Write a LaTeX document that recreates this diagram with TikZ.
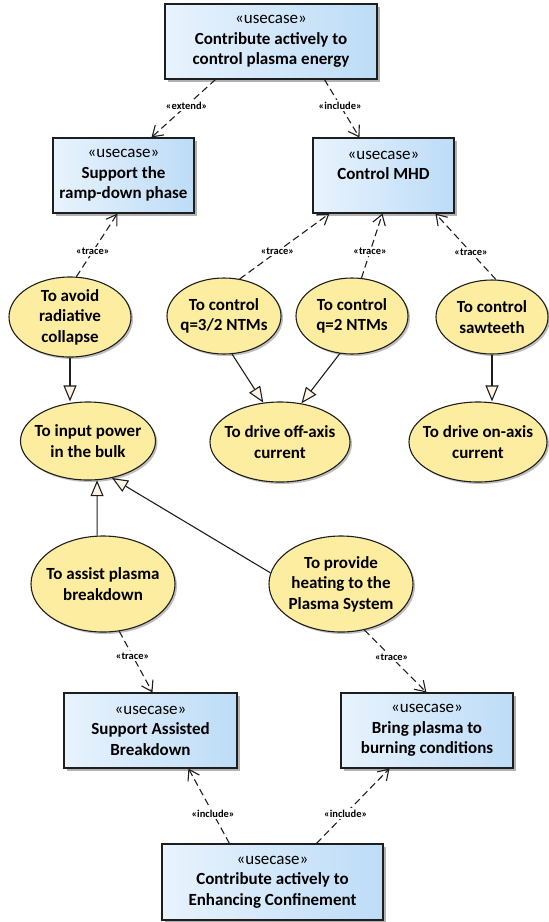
\documentclass[tikz,border=0pt]{standalone}
\usepackage{fontspec}
\setmainfont{Carlito}
\usetikzlibrary{shapes.geometric, arrows.meta, shadows}
\definecolor{ucleft}{HTML}{E8F3FD}
\definecolor{ucright}{HTML}{BDDCF7}
\definecolor{goalfill}{HTML}{FDEDA0}
\definecolor{tipfill}{HTML}{FDF4E6}
\definecolor{edge}{HTML}{1E1E1E}
\begin{document}
\begin{tikzpicture}[x=1pt, y=-1pt, line join=miter,
    every node/.style={align=center, inner sep=0pt},
    usecase/.style={rectangle, draw=edge, line width=1.1pt, left color=ucleft, right color=ucright, minimum height=75pt, font=\fontsize{17}{20.5}\selectfont\bfseries, drop shadow={shadow xshift=2.5pt, shadow yshift=-2.5pt, fill=black, opacity=0.3}},
    goal/.style={ellipse, draw=edge, line width=1.1pt, fill=goalfill, drop shadow={shadow xshift=2pt, shadow yshift=-2pt, fill=black, opacity=0.25}},
    goaltext/.style={font=\fontsize{17}{20.5}\selectfont\bfseries},
    dep/.style={draw=edge, line width=1.1pt, dash pattern=on 7pt off 4pt, -{Straight Barb[length=10pt, width=13pt]}},
    gen/.style={draw=edge, line width=1.1pt, -{Triangle[length=16pt, width=13pt, fill=tipfill]}},
    lbl/.style={fill=white, inner sep=1.5pt, font=\fontsize{10.5}{11}\selectfont\bfseries}]
    \useasboundingbox (0,0) rectangle (549,922);
    % use cases
    \node[usecase, minimum width=212pt] (cpe) at (271,41.5) {{\mdseries«usecase»}\\Contribute actively to\\control plasma energy};
    \node[usecase, minimum width=141pt] (ramp) at (123.5,175.5) {{\mdseries«usecase»}\\Support the\\ramp-down phase};
    \node[usecase, minimum width=141pt] (mhd) at (383.5,175.5) {{\mdseries«usecase»}\\Control MHD\\~};
    \node[usecase, minimum width=173pt] (sab) at (150.5,730.5) {{\mdseries«usecase»}\\Support Assisted\\Breakdown};
    \node[usecase, minimum width=172pt] (bring) at (427,730.5) {{\mdseries«usecase»}\\Bring plasma to\\burning conditions};
    \node[usecase, minimum width=221pt, minimum height=76pt] (ec) at (272.5,882) {{\mdseries«usecase»}\\Contribute actively to\\Enhancing Confinement};
    % goals
    \node[goal, minimum width=122pt, minimum height=80pt, label={[goaltext]center:To avoid\\radiative\\collapse}] (avoid) at (70,317) {};
    \node[goal, minimum width=114pt, minimum height=76pt, label={[goaltext]center:To control\\q=3/2 NTMs}] (q32) at (224,316) {};
    \node[goal, minimum width=112pt, minimum height=76pt, label={[goaltext]center:To control\\q=2 NTMs}] (q2) at (352,316) {};
    \node[goal, minimum width=112pt, minimum height=74pt, label={[goaltext]center:To control\\sawteeth}] (saw) at (492,317) {};
    \node[goal, minimum width=135pt, minimum height=78pt, label={[goaltext]center:To input power\\in the bulk}] (input) at (88,441) {};
    \node[goal, minimum width=140pt, minimum height=80pt, label={[goaltext]center:To drive off-axis\\current}] (off) at (280,442) {};
    \node[goal, minimum width=138pt, minimum height=80pt, label={[goaltext]center:To drive on-axis\\current}] (on) at (478,442) {};
    \node[goal, minimum width=144pt, minimum height=96pt, label={[goaltext]center:To assist plasma\\breakdown}] (assist) at (103,584) {};
    \node[goal, minimum width=144pt, minimum height=96pt, label={[goaltext]center:To provide\\heating to the\\Plasma System}] (heat) at (341,584) {};
    % dependencies
    \draw[dep] ([xshift=51pt]cpe.south west) -- node[lbl, pos=.45] {«extend»} ([xshift=99pt]ramp.north west);
    \draw[dep] ([xshift=160pt]cpe.south west) -- node[lbl, pos=.45] {«include»} ([xshift=47pt]mhd.north west);
    \draw[dep] (avoid.81) -- node[lbl, pos=.4] {«trace»} ([xshift=65pt]ramp.south west);
    \draw[dep] (q32.67) -- node[lbl, pos=.42] {«trace»} ([xshift=17pt]mhd.south west);
    \draw[dep] (q2.76) -- node[lbl, pos=.41] {«trace»} ([xshift=70pt]mhd.south west);
    \draw[dep] (saw.84) -- node[lbl, pos=.41] {«trace»} ([xshift=123pt]mhd.south west);
    \draw[dep] (assist.289) -- node[lbl, pos=.4] {«trace»} ([xshift=89pt]sab.north west);
    \draw[dep] (heat.297) -- node[lbl, pos=.44] {«trace»} ([xshift=86pt]bring.north west);
    \draw[dep] ([xshift=68pt]ec.north west) -- node[lbl, pos=.4] {«include»} ([xshift=125pt]sab.south west);
    \draw[dep] ([xshift=155pt]ec.north west) -- node[lbl, pos=.4] {«include»} ([xshift=49pt]bring.south west);
    % generalizations
    \draw[gen] (avoid.south) -- (avoid.south |- input.north);
    \draw[gen] (q32.282) -- (off.113);
    \draw[gen] (q2.252) -- (off.61);
    \draw[gen] (saw.south) -- (saw.south |- on.north);
    \draw[gen] (assist.97) -- (input.283);
    \draw[gen] (heat.171) -- (input.303);
\end{tikzpicture}
\end{document}
